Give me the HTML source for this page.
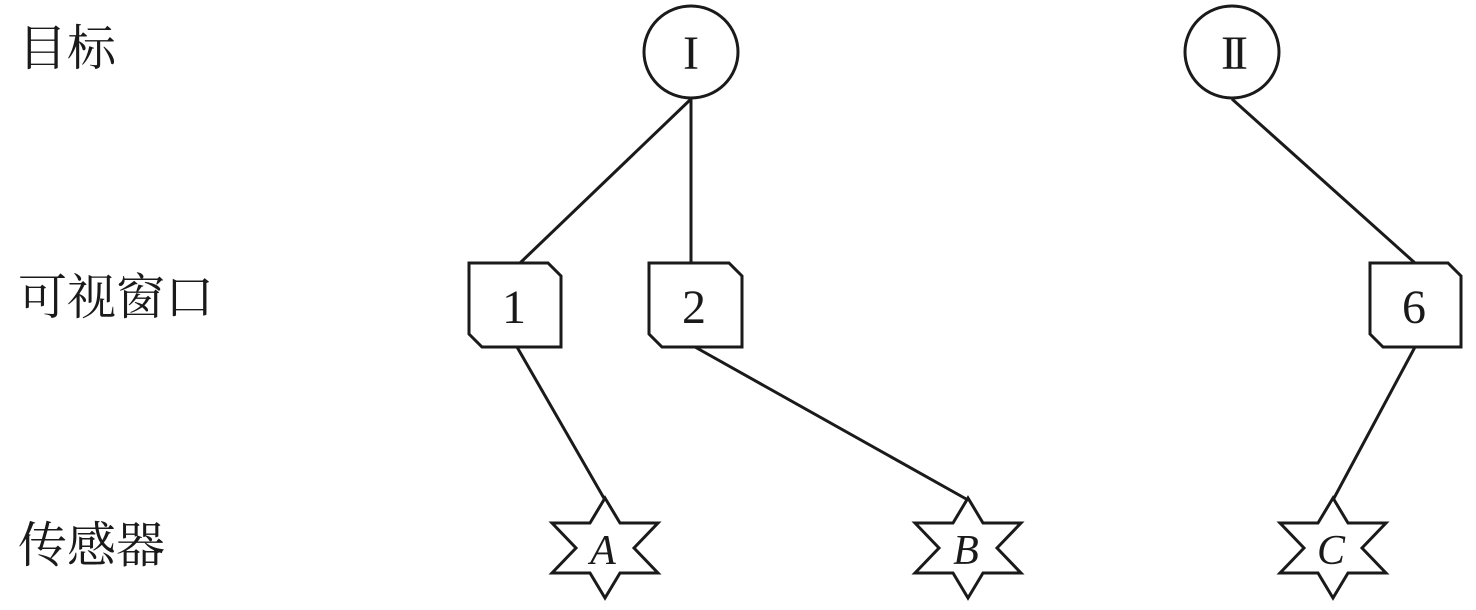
<!DOCTYPE html>
<html><head><meta charset="utf-8"><style>
body{margin:0;background:#fff;width:1476px;height:610px;overflow:hidden}
svg{display:block}
</style></head><body>
<svg width="1476" height="610" viewBox="0 0 1476 610" xmlns="http://www.w3.org/2000/svg">
<g stroke="#1a1a1a" stroke-width="3" fill="none">
<line x1="691" y1="99" x2="520" y2="263"/>
<line x1="691" y1="99" x2="691" y2="263"/>
<line x1="1232" y1="99" x2="1415" y2="263"/>
<line x1="517" y1="347" x2="605" y2="500"/>
<line x1="695" y1="347" x2="968" y2="500"/>
<line x1="1415" y1="347" x2="1333" y2="500"/>
<ellipse cx="691" cy="52" rx="47" ry="46" fill="#fff"/>
<ellipse cx="1232" cy="52" rx="47" ry="46" fill="#fff"/>
<polygon points="469,263 548,263 561,276 561,347 482,347 469,334" fill="#fff"/>
<polygon points="649,263 729,263 742,276 742,347 662,347 649,334" fill="#fff"/>
<polygon points="1370,263 1448,263 1461,276 1461,347 1383,347 1370,334" fill="#fff"/>
<polygon points="605,498 620,523 658,523 634,548 658,573 620,573 605,598 590,573 552,573 576,548 552,523 590,523" fill="#fff"/>
<polygon transform="translate(363,0)" points="605,498 620,523 658,523 634,548 658,573 620,573 605,598 590,573 552,573 576,548 552,523 590,523" fill="#fff"/>
<polygon transform="translate(728,0)" points="605,498 620,523 658,523 634,548 658,573 620,573 605,598 590,573 552,573 576,548 552,523 590,523" fill="#fff"/>
</g>
<g font-family="'Liberation Serif', serif" font-size="48" fill="#1a1a1a" text-anchor="middle">
<text x="691" y="69">I</text>
<text x="1232" y="69" letter-spacing="-5">II</text>
<text x="514" y="323">1</text>
<text x="694" y="323">2</text>
<text x="1414" y="323">6</text>
<g font-style="italic" font-size="42">
<text x="603" y="564">A</text>
<text x="966" y="564">B</text>
<text x="1331" y="564">C</text>
</g>
</g>
<g font-family="'Liberation Serif','Noto Serif CJK SC',serif" font-size="49" fill="#1a1a1a">
<text x="18" y="65">目标</text>
<text x="18" y="314">可视窗口</text>
<text x="18" y="562">传感器</text>
</g>
</svg>
</body></html>
